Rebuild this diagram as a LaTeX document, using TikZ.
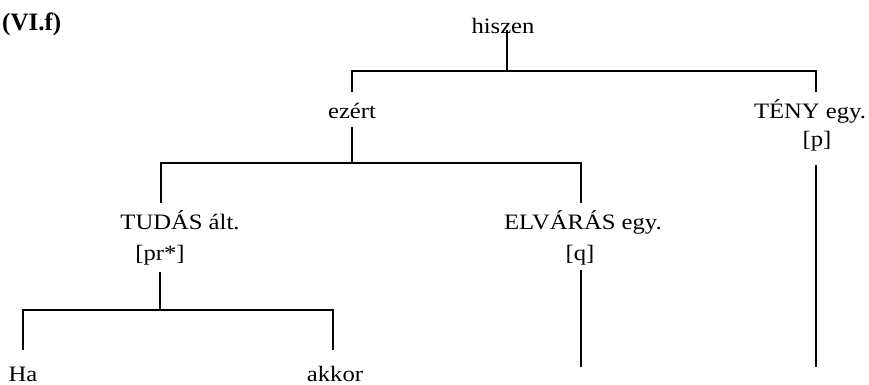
\documentclass[tikz,border=0pt]{standalone}
\usepackage{fontspec}
\setmainfont{Liberation Serif}[FakeStretch=1.12]
\newfontfamily\titlefont{Liberation Serif}
\begin{document}
\begin{tikzpicture}[x=1pt,y=-1pt,
  lbl/.style={inner sep=0pt, anchor=base, font=\fontsize{22}{26}\selectfont},
  branch/.style={line width=2.8pt, line cap=butt, line join=miter}]
\useasboundingbox (0,0) rectangle (869,384);
% labels
\node[inner sep=0pt, anchor=base west, font=\titlefont\fontsize{25}{29}\selectfont\bfseries] (title) at (2,30) {(VI.f)};
\node[lbl] (hiszen) at (503,33) {hiszen};
\node[lbl] (ezert) at (352,118) {ezért};
\node[lbl] (teny) at (810,118) {TÉNY egy.};
\node[lbl] (p) at (817,146) {[p]};
\node[lbl] (tudas) at (180,229) {TUDÁS ált.};
\node[lbl] (pr) at (160,260) {[pr*]};
\node[lbl] (elvaras) at (583,229) {ELVÁRÁS egy.};
\node[lbl] (q) at (580,260) {[q]};
\node[lbl] (ha) at (23,381) {Ha};
\node[lbl] (akkor) at (335,381) {akkor};
% junction coordinates
\coordinate (h0) at (507,30);
\coordinate (h1) at (507,71);
\coordinate (e0) at (352,92);
\coordinate (t0) at (816,92);
\coordinate (e1) at (352,127);
\coordinate (e2) at (352,163);
\coordinate (u0) at (161,203);
\coordinate (v0) at (581,203);
\coordinate (q0) at (581,270);
\coordinate (q1) at (581,367);
\coordinate (p0) at (816,165);
\coordinate (p1) at (816,367);
\coordinate (r0) at (160,272);
\coordinate (r1) at (160,310);
\coordinate (a0) at (23,350);
\coordinate (k0) at (333,350);
% connectors
\draw[branch] (h0) -- (h1);
\draw[branch] (e0) |- (h1) -| (t0);
\draw[branch] (e1) -- (e2);
\draw[branch] (u0) |- (e2) -| (v0);
\draw[branch] (q0) -- (q1);
\draw[branch] (p0) -- (p1);
\draw[branch] (r0) -- (r1);
\draw[branch] (a0) |- (r1) -| (k0);
\end{tikzpicture}
\end{document}
